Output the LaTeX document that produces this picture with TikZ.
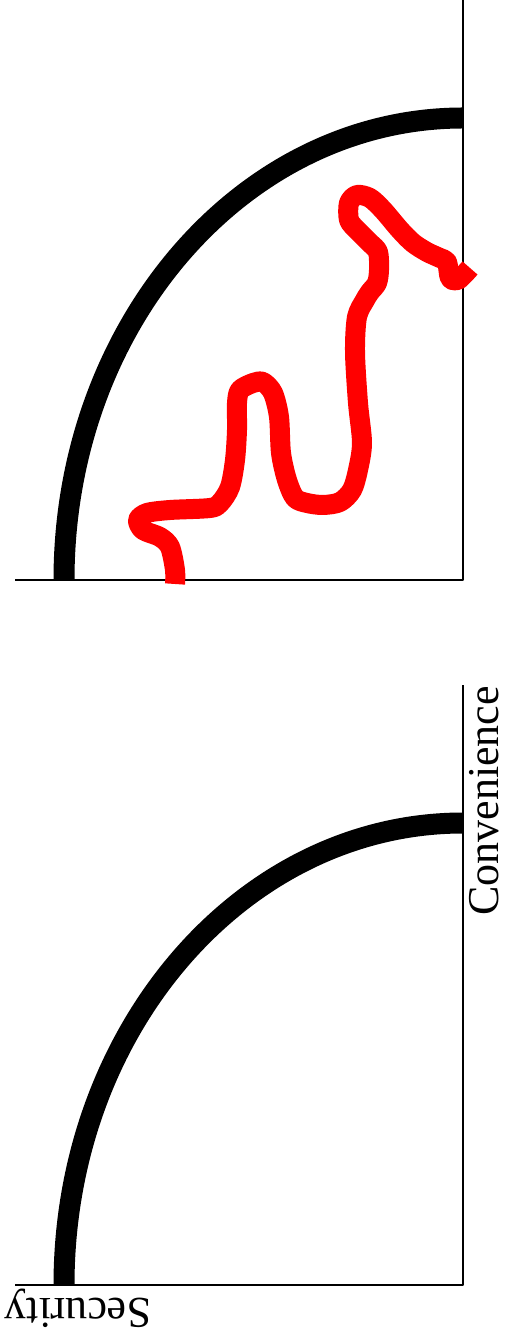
\documentclass[tikz,border=0pt]{standalone}
\usepackage{fontspec}
\setmainfont{Liberation Serif}

\begin{document}
\begin{tikzpicture}[
  x=1pt, y=1pt,
  line join=round,
  every node/.style={font=\fontsize{44}{48}\selectfont, inner sep=0pt},
  axis/.style={line width=2pt},
  frontier/.style={line width=21pt},
  trail/.style={red, line width=20pt, line cap=butt}
]
\useasboundingbox (0,0) rectangle (508,1344);

% ------------------------------------------------------------------
% Frontier only
% ------------------------------------------------------------------
\begin{scope}[shift={(463,59)}]
  \coordinate (O1) at (0,0);
  \coordinate (X1) at (-448,0);
  \coordinate (Y1) at (0,600);

  \draw[axis] (X1) -- (O1) -- (Y1);
  \draw[frontier] (-399,0) arc[start angle=180, end angle=90,
    x radius=399, y radius=462];

  \node[rotate=180, anchor=base] (security) at (-385,-14) {Security};
  \node[rotate=90, anchor=base] (convenience) at (35,484) {Convenience};
\end{scope}

% ------------------------------------------------------------------
% Frontier with a wandering trail
% ------------------------------------------------------------------
\begin{scope}[shift={(463,764)}]
  \coordinate (O2) at (0,0);
  \coordinate (X2) at (-448,0);
  \coordinate (Y2) at (0,580);

  \draw[axis] (X2) -- (O2) -- (Y2);
  \draw[frontier] (-399,0) arc[start angle=180, end angle=90,
    x radius=399, y radius=462];

  \draw[trail] plot[smooth, tension=0.5] coordinates {
    (-288,-4) (-288,10) (-293,33) (-303,43) (-320,50) (-325,60)
    (-316,67) (-293,70) (-253,72) (-243,77) (-233,93) (-228,120)
    (-226,150) (-226,177) (-223,190) (-210,197) (-200,198) (-190,187)
    (-184,163) (-182,127) (-176,100) (-168,82) (-156,77) (-140,75)
    (-123,78) (-111,90) (-105,110) (-101,137) (-105,177) (-108,228)
    (-106,263) (-98,280) (-93,288) (-86,297) (-84,310) (-85,328)
    (-93,337) (-106,350) (-114,360) (-114,377) (-106,385) (-93,382)
    (-80,370) (-63,350) (-50,337) (-36,328) (-23,322) (-16,318)
    (-13,302) (-5,300) (7,312)};
\end{scope}

\end{tikzpicture}
\end{document}
